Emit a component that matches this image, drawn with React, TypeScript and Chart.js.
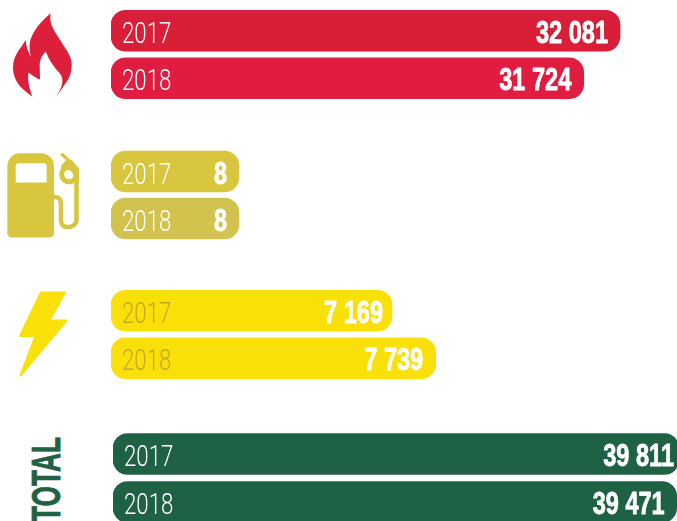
import React, { useEffect, useRef } from "react";
import { Chart, registerables } from "chart.js";

Chart.register(...registerables);

const years = ["2017", "2018"];
const gasValues = [32081, 31724];
const fuelValues = [8, 8];
const powerValues = [7169, 7739];
const totalValues = [39811, 39471];

type Panel = {
  values: number[];
  colors: string[];
  yearColor: string;
  insets: number[];
  min: number;
  max: number;
  left: number;
  top: number;
  width: number;
  height: number;
};

const panels: Panel[] = [
  { values: gasValues, colors: ["#d81f37", "#e01c41"], yearColor: "#ffffff", insets: [12, 12.5], min: 27075, max: 32641, left: 111, top: 7, width: 566, height: 95 },
  { values: fuelValues, colors: ["#d8c73e", "#d1c34d"], yearColor: "#ffffff", insets: [12, 12], min: 0, max: 35.375, left: 111, top: 148, width: 566, height: 94 },
  { values: powerValues, colors: ["#f9e008", "#f9e008"], yearColor: "#c0aa2a", insets: [9, 12.5], min: 3504, max: 10886, left: 111, top: 287, width: 566, height: 95 },
  { values: totalValues, colors: ["#1f6144", "#1f6144"], yearColor: "#ffffff", insets: [5, 12], min: -43855, max: 39811, left: 113, top: 430, width: 566, height: 96 },
];

const formatValue = (v: number) => String(v).replace(/\B(?=(\d{3})+$)/g, " ");

function squeezedText(ctx: CanvasRenderingContext2D, text: string, x: number, y: number, sx: number, align: CanvasTextAlign, strokeWidth = 0) {
  ctx.save();
  ctx.translate(x, y);
  ctx.scale(sx, 1);
  ctx.textAlign = align;
  ctx.textBaseline = "alphabetic";
  ctx.fillText(text, 0, 0);
  if (strokeWidth > 0) {
    ctx.lineWidth = strokeWidth;
    ctx.lineJoin = "round";
    ctx.strokeText(text, 0, 0);
  }
  ctx.restore();
}

function barLabels(panel: Panel) {
  return {
    id: "barLabels",
    afterDatasetsDraw(chart: Chart) {
      const { ctx } = chart;
      chart.getDatasetMeta(0).data.forEach((bar: any, i: number) => {
        ctx.save();
        ctx.fillStyle = panel.yearColor;
        ctx.font = "300 30px Roboto";
        squeezedText(ctx, years[i], bar.base + 11, bar.y + 12, 0.74, "left");
        ctx.fillStyle = "#ffffff";
        ctx.strokeStyle = "#ffffff";
        ctx.font = "bold 31px 'Liberation Sans'";
        squeezedText(ctx, formatValue(panel.values[i]), bar.x - panel.insets[i], bar.y + 12, 0.76, "right", 0.8);
        ctx.restore();
      });
    },
  };
}

function PanelChart({ panel }: { panel: Panel }) {
  const ref = useRef<HTMLCanvasElement>(null);
  useEffect(() => {
    const chart = new Chart(ref.current!, {
      type: "bar",
      data: {
        labels: years,
        datasets: [
          {
            data: panel.values,
            base: panel.min,
            backgroundColor: panel.colors,
            borderRadius: 15,
            borderSkipped: false,
            barThickness: 41,
          },
        ],
      },
      options: {
        indexAxis: "y",
        animation: false,
        responsive: false,
        devicePixelRatio: 1,
        layout: { padding: 0 },
        plugins: { legend: { display: false }, tooltip: { enabled: false } },
        scales: {
          x: { display: false, min: panel.min, max: panel.max },
          y: { display: false },
        },
      },
      plugins: [barLabels(panel)],
    } as any);
    return () => chart.destroy();
  }, [panel]);
  return (
    <canvas
      ref={ref}
      width={panel.width}
      height={panel.height}
      style={{ position: "absolute", left: panel.left, top: panel.top, width: panel.width, height: panel.height }}
    />
  );
}

function Icons() {
  return (
    <svg width={677} height={521} style={{ position: "absolute", left: 0, top: 0 }}>
      <path
        fill="#dc1f3a"
        d="M50.7 13.3 C50 19 50.5 22 52 26 C55 33 58 36 62 43 C67 51 72 57 71.7 65 C71.5 74 69 79 65 84 C62 89 59 93 56 96.7 C60 91 63 85 62.3 79 C61.5 73 56.5 71 53 65 C49.5 60 47.5 56 45.7 51.5 C42 55 39.5 60 39.7 66 C39.8 71 40 75 40 79.5 C36 78 32 75 28.5 72.5 C27.5 79 28.5 86 32.3 96.7 C25 91 18 86 15 78 C12 70 12.5 62 16 55 C19 49 23 45 25.7 40 C26 46 28 52 31 57 C29 48 29 42 32 36 C36 27 43 20 50.7 13.3 Z"
      />
      <path
        fill="#d8c73e"
        fillRule="evenodd"
        d="M20 153.3 H41 A13 13 0 0 1 54 166.3 V233 A4.5 4.5 0 0 1 49.5 237.5 H11.8 A4.5 4.5 0 0 1 7.3 233 V166 A12.7 12.7 0 0 1 20 153.3 Z M18.7 163.3 A3 3 0 0 0 15.7 166.3 V182.5 H46.7 V166.3 A3 3 0 0 0 43.7 163.3 Z"
      />
      <path fill="none" stroke="#d8c73e" strokeWidth={4.5} d="M53 197 H55 C59 197 61 200 61 204 V220 C61 226 64 227 68 227 C73 227 76.5 224 76.5 219 V170 L70 161" />
      <path fill="#d8c73e" d="M60 155 L62.5 152.5 L79 168 V184 L74 178 C74 171 66 166 61 171 L61 166 L66 160 Z" />
      <circle cx={69} cy={174.5} r={7.3} fill="none" stroke="#d8c73e" strokeWidth={5} />
      <path
        fill="#f9e008"
        stroke="#f9e008"
        strokeWidth={2}
        strokeLinejoin="round"
        d="M41 292.5 H65 L49.5 320.5 H66.5 L20.5 375.5 L35.5 336 H20 Z"
      />
      <text
        transform="translate(60 522) rotate(-90)"
        fontFamily="'Liberation Sans'"
        fontWeight="bold"
        fontSize={41}
        fill="#1f6144"
        stroke="#1f6144"
        strokeWidth={0.8}
        textLength={85}
        lengthAdjust="spacingAndGlyphs"
      >
        TOTAL
      </text>
    </svg>
  );
}

export default function App() {
  return (
    <div style={{ position: "fixed", left: 0, top: 0, width: 677, height: 521, overflow: "hidden", background: "#ffffff" }}>
      <Icons />
      {panels.map((p, i) => (
        <PanelChart key={i} panel={p} />
      ))}
    </div>
  );
}
